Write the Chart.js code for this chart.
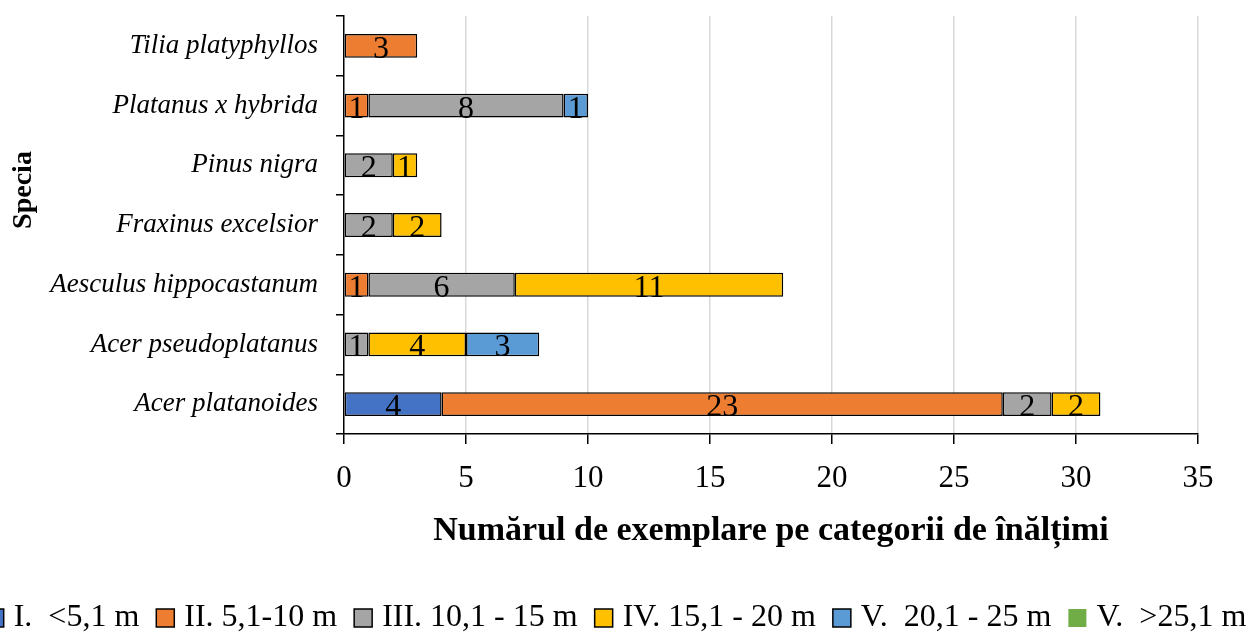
<!DOCTYPE html>
<html>
<head>
<meta charset="utf-8">
<title>Specia - categorii de înălțimi</title>
<script src="https://cdn.jsdelivr.net/npm/chart.js@4/dist/chart.umd.min.js"></script>
<style>
  html, body { margin: 0; padding: 0; background: #fff; overflow: hidden; }
  #wrap { position: relative; width: 1251px; height: 632px; }
</style>
</head>
<body>
<div id="wrap"><canvas id="heightChart"></canvas></div>
<script>
// top to bottom, as the chart shows them
const species = [
  "Tilia platyphyllos",
  "Platanus x hybrida",
  "Pinus nigra",
  "Fraxinus excelsior",
  "Aesculus hippocastanum",
  "Acer pseudoplatanus",
  "Acer platanoides",
];

const seriesNames = [
  "I.  <5,1 m",
  "II. 5,1-10 m",
  "III. 10,1 - 15 m",
  "IV. 15,1 - 20 m",
  "V.  20,1 - 25 m",
  "V.  >25,1 m",
];

const catI   = [null, null, null, null, null, null, 4];
const catII  = [3, 1, null, null, 1, null, 23];
const catIII = [null, 8, 2, 2, 6, 1, 2];
const catIV  = [null, null, 1, 2, 11, 4, 2];
const catV   = [null, 1, null, null, null, 3, null];
const catVI  = [null, null, null, null, null, null, null];

const xTicks = [0, 5, 10, 15, 20, 25, 30, 35];

const colors = ["#4472C4", "#ED7D31", "#A5A5A5", "#FFC000", "#5B9BD5", "#70AD47"];

(() => {
  const FONT = "'Liberation Serif', 'Times New Roman', serif";

  function dataset(i, values) {
    return {
      label: seriesNames[i],
      data: values,
      backgroundColor: colors[i],
      borderColor: "#000",
      borderWidth: i === 5 ? 0 : 1.5,
      borderSkipped: false,
      categoryPercentage: 1,
      barPercentage: 0.4,
    };
  }

  // value in the middle of each segment
  const barLabels = {
    id: "barLabels",
    afterDatasetsDraw(chart) {
      const ctx = chart.ctx;
      ctx.save();
      ctx.font = `32px ${FONT}`;
      ctx.fillStyle = "#000";
      ctx.textAlign = "center";
      ctx.textBaseline = "alphabetic";
      chart.data.datasets.forEach((ds, di) => {
        const meta = chart.getDatasetMeta(di);
        meta.data.forEach((bar, i) => {
          const v = ds.data[i];
          if (v == null || v === 0) return;
          const c = bar.getCenterPoint();
          ctx.fillText(String(v), c.x, c.y + 12);
        });
      });
      ctx.restore();
    },
  };

  // single-line legend that may run past the edges, plus the y title
  const extras = {
    id: "extras",
    afterDraw(chart) {
      const ctx = chart.ctx;
      ctx.save();

      ctx.font = `bold 28px ${FONT}`;
      ctx.fillStyle = "#000";
      ctx.textAlign = "center";
      ctx.textBaseline = "middle";
      ctx.translate(24, 190);
      ctx.rotate(-Math.PI / 2);
      ctx.fillText("Specia", 0, 0);
      ctx.setTransform(1, 0, 0, 1, 0, 0);

      ctx.font = `32px ${FONT}`;
      const box = 18, gapText = 10, gapItem = 17;
      const items = chart.data.datasets.map((ds) => ({
        ds,
        w: box + gapText + ctx.measureText(ds.label).width,
      }));
      const total = items.reduce((s, it) => s + it.w, 0) + gapItem * (items.length - 1);
      let x = 616 - total / 2;
      const cy = 618;
      ctx.textAlign = "left";
      ctx.textBaseline = "middle";
      for (const it of items) {
        ctx.fillStyle = it.ds.backgroundColor;
        ctx.fillRect(x, cy - box / 2, box, box);
        if (it.ds.borderWidth) {
          ctx.lineWidth = 1.5;
          ctx.strokeStyle = "#000";
          ctx.strokeRect(x, cy - box / 2, box, box);
        }
        ctx.fillStyle = "#000";
        ctx.fillText(it.ds.label, x + box + gapText, cy);
        x += it.w + gapItem;
      }
      ctx.restore();
    },
  };

  document.addEventListener("DOMContentLoaded", () => {
    new Chart(document.getElementById("heightChart"), {
      type: "bar",
      data: {
        labels: species,
        datasets: [
          dataset(0, catI),
          dataset(1, catII),
          dataset(2, catIII),
          dataset(3, catIV),
          dataset(4, catV),
          dataset(5, catVI),
        ],
      },
      options: {
        indexAxis: "y",
        responsive: true,
        maintainAspectRatio: false,
        animation: false,
        layout: { padding: { left: 0, right: 53, top: 16, bottom: 78 } },
        plugins: {
          legend: { display: false },
          tooltip: { enabled: false },
        },
        scales: {
          x: {
            stacked: true,
            min: 0,
            max: 35,
            afterBuildTicks: (scale) => {
              scale.ticks = xTicks.map((v) => ({ value: v }));
            },
            afterFit: (scale) => { scale.height = 120; },
            grid: {
              color: (c) => (c.index === 0 ? "rgba(0,0,0,0)" : "#d9d9d9"),
              lineWidth: 1.5,
              tickColor: "#000",
              tickLength: 10,
            },
            border: { display: true, color: "#000", width: 1.5 },
            ticks: {
              color: "#000",
              font: { family: FONT, size: 31 },
              padding: 16,
              maxRotation: 0,
            },
            title: {
              display: true,
              text: "Numărul de exemplare pe categorii de înălțimi",
              color: "#000",
              font: { family: FONT, size: 34, weight: "bold" },
              padding: { top: 0, bottom: 2 },
            },
          },
          y: {
            stacked: true,
            afterFit: (scale) => {
              scale.width = 344;
              scale.paddingTop = 0;
              scale.paddingBottom = 0;
            },
            grid: {
              drawOnChartArea: false,
              drawTicks: true,
              tickLength: 8,
              color: "#000",
              lineWidth: 1.5,
            },
            border: { display: true, color: "#000", width: 1.5 },
            ticks: {
              color: "#000",
              font: { family: FONT, size: 27, style: "italic" },
              padding: 18,
            },
          },
        },
      },
      plugins: [barLabels, extras],
    });
  });
})();
</script>
</body>
</html>
